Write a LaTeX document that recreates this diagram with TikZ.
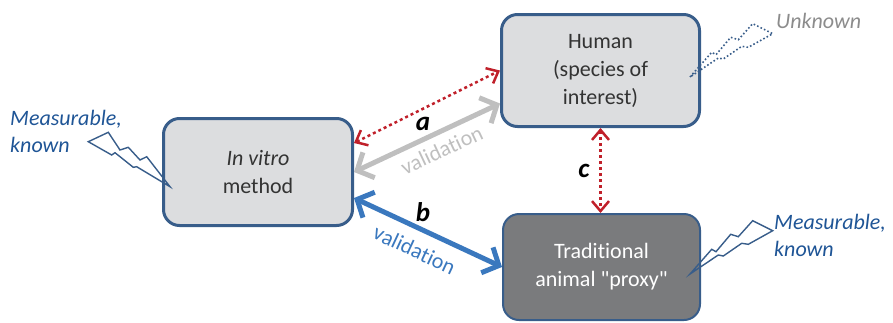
\documentclass[tikz,border=0pt]{standalone}
\usepackage{fontspec}
\setmainfont{Carlito}[Ligatures={TeX,NoCommon}]
\newfontfamily\rawfont{Carlito}[Ligatures=NoCommon]
\usetikzlibrary{arrows.meta,calc}
\definecolor{boxblue}{HTML}{385D8A}
\definecolor{boxfill}{HTML}{DCDDDF}
\definecolor{darkfill}{HTML}{7A7B7D}
\definecolor{txtdark}{HTML}{333333}
\definecolor{measblue}{HTML}{1F5596}
\definecolor{unkgray}{HTML}{8C8C8C}
\definecolor{arrred}{HTML}{C0202A}
\definecolor{valgray}{HTML}{BFBFBF}
\definecolor{valblue}{HTML}{3A78BE}
\begin{document}
\begin{tikzpicture}[x=1pt,y=-1pt,
  box/.style={draw=boxblue, fill=boxfill, rounded corners=16pt, line width=3pt,
    text=txtdark, align=center, font=\fontsize{22}{28}\selectfont, inner sep=0pt},
  darkbox/.style={box, fill=darkfill, text=white, line width=2pt, font=\rawfont\fontsize{22}{28}\selectfont},
  meas/.style={text=measblue, align=left, font=\fontsize{22}{27}\selectfont\itshape, inner sep=0pt},
  unk/.style={text=unkgray, font=\fontsize{22}{27}\selectfont\itshape, inner sep=0pt},
  lbl/.style={text=black, font=\fontsize{27}{30}\selectfont\bfseries\itshape, inner sep=0pt},
  redarrow/.style={draw=arrred, line width=2.5pt, dash pattern=on 3pt off 3pt,
    {Straight Barb[length=10pt,width=17pt]}-{Straight Barb[length=10pt,width=17pt]}},
  grayarrow/.style={draw=valgray, line width=5pt,
    {Straight Barb[length=13pt,width=28pt]}-{Straight Barb[length=13pt,width=28pt]}},
  bluearrow/.style={draw=valblue, line width=5pt,
    {Straight Barb[length=13pt,width=28pt]}-{Straight Barb[length=13pt,width=28pt]}},
  vallbl/.style={font=\fontsize{22}{26}\selectfont, inner sep=0pt},
  callout/.style={draw=boxblue, line width=1.4pt, line join=miter},
  dottedcallout/.style={callout, line width=1.6pt, dash pattern=on 1.6pt off 2.2pt}
]
\useasboundingbox (0,0) rectangle (893,322);

\node[box, minimum width=189pt, minimum height=107pt] (invitro) at (258,172) {\textit{In vitro}\\method};
\node[box, minimum width=198pt, minimum height=112pt] (human) at (600.5,70.5) {Human\\(species of\\interest)};
\node[darkbox, minimum width=197pt, minimum height=106pt] (animal) at (601.5,267) {Traditional\\animal "proxy"};

% labels
\node[meas, anchor=west] (mleft) at (10,131) {Measurable,\\known};
\node[meas, anchor=west] (mright) at (774,235) {Measurable,\\known};
\node[unk, anchor=west] (unknown) at (776,21) {Unknown};

% callouts
\draw[callout] (170,186.7) -- (136.7,166.7) -- (133.3,167.3) -- (115,152.7) -- (111.7,155)
  -- (88.3,141.7) -- (108.3,132.3) -- (120,150) -- (128.3,147.3) -- (140,160) -- (146.7,156.7) -- cycle;
\draw[callout] (690,274) -- (711.7,249.3) -- (716,251.7) -- (730.7,234.3) -- (738.3,236.7)
  -- (752.7,220.7) -- (772.7,230.7) -- (748.3,244.3) -- (741.7,243.3) -- (723.3,256) -- (718.3,255) -- cycle;
\draw[dottedcallout] (690,77) -- (711.7,52.3) -- (716,54.7) -- (730.7,37.3) -- (738.3,39.7)
  -- (752.7,23.7) -- (772.7,33.7) -- (748.3,47.3) -- (741.7,46.3) -- (723.3,59) -- (718.3,58) -- cycle;

% connectors
\draw[redarrow] ($(invitro.east)+(0,-29)$) -- (human.west);
\draw[grayarrow] (invitro.east) -- node[vallbl, text=valgray, sloped, below=7pt, pos=0.55] {validation} ($(human.west)+(0,33)$);
\draw[bluearrow] ($(invitro.east)+(0,26)$) -- node[vallbl, text=valblue, sloped, below=11pt, pos=0.47] {validation} (animal.west);
\draw[redarrow] (human.south) -- (human.south |- animal.north);

\node[lbl] (la) at (423,124) {a};
\node[lbl] (lb) at (423,212) {b};
\node[lbl] (lc) at (584,171) {c};
\end{tikzpicture}
\end{document}
